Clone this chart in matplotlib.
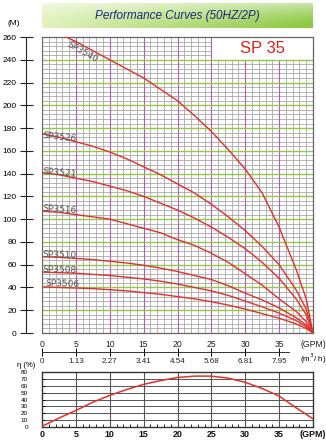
import numpy as np
import matplotlib
matplotlib.use("Agg")
import matplotlib.pyplot as plt

# ---------------- data ----------------
flow_gpm = [0, 2.5, 5, 7.5, 10, 12.5, 15, 17.5, 20, 22.5, 25, 27.5, 30, 32.5, 35, 37.5, 39, 40]

sp3540 = [268, 263, 256, 248, 240, 232, 224, 214, 204, 191, 177, 161, 144, 123, 93, 56, 30, 0]
sp3526 = [175, 172, 168, 164, 159, 153, 146, 139, 131, 123, 113, 102, 90, 76, 60, 38, 21, 0]
sp3521 = [141, 139, 136, 133, 129, 125, 120, 114, 108, 101, 93, 84, 74, 62, 48, 30, 16, 0]
sp3516 = [107, 106, 104, 102, 100, 96, 92, 88, 82, 77, 70, 62, 52, 42, 30, 19, 10, 0]
sp3510 = [67, 66.5, 65.5, 64.5, 63, 61.5, 59.5, 57, 54, 50.5, 47, 41.5, 35, 29, 22, 13.5, 7, 0]
sp3508 = [53.5, 53, 52.5, 51.5, 50.5, 49, 47.5, 45.5, 43, 40, 37, 33, 28, 23, 17.5, 11, 5.5, 0]
sp3506 = [40.5, 40, 39.5, 39, 38, 37, 35.5, 34, 32, 30, 27.5, 24.5, 21, 17, 13, 8, 4, 0]

curve_names = ["SP3540", "SP3526", "SP3521", "SP3516", "SP3510", "SP3508", "SP3506"]

eff_gpm = [0, 2.5, 5, 7.5, 10, 12.5, 15, 17.5, 20, 22.5, 25, 27.5, 30, 32.5, 35, 37.5, 40]
eff_pct = [1, 13, 24, 36, 46, 54.5, 62, 67.5, 72, 74, 74, 71, 65, 56, 45, 28, 12]

gpm_ticks = [0, 5, 10, 15, 20, 25, 30, 35, 40]
gpm_labels = ["0", "5", "10", "15", "20", "25", "30", "35", "(GPM)"]
m3h_ticks = [0, 5, 10, 15, 20, 25, 30, 35]
m3h_labels = ["0", "1.13", "2.27", "3.41", "4.54", "5.68", "6.81", "7.95"]
head_ticks = list(range(0, 261, 20))
eff_ticks = list(range(0, 81, 10))

title = "Performance Curves (50HZ/2P)"
model = "SP 35"

# ---------------- style ----------------
W, H = 326, 440
FONT = "Liberation Sans"
RED = "#e0322b"
GREY = "#a8a8a8"
MAG = "#b65cb6"
GREEN = "#92c84c"

fig = plt.figure(figsize=(W / 100, H / 100), dpi=100)
fig.patch.set_facecolor("white")
PT = 72 / 100  # points per pixel


def fr(x0, y0, x1, y1):
    return [x0 / W, 1 - y1 / H, (x1 - x0) / W, (y1 - y0) / H]


# ---- title band ----
tax = fig.add_axes(fr(42, 3, 313, 28))
t = np.linspace(0, 1, 200)[None, :, None]
v = np.linspace(0, 1, 30)[:, None, None]
left = np.array([0.88, 0.95, 0.74])
right = np.array([0.54, 0.78, 0.24])
c = left * (1 - t) + right * t
c = c + (1 - c) * 0.55 * (1 - v) ** 1.5
tax.imshow(c, aspect="auto", extent=[0, 1, 0, 1])
tax.set_axis_off()
tax.text(0.5, 0.5, title, ha="center", va="center", fontsize=8.5,
         style="italic", color="#1d2a7e", family=FONT)

# ---- main head chart ----
ax = fig.add_axes(fr(42, 37, 313, 333))
ax.set_xlim(0, 40)
ax.set_ylim(0, 260)

for gx in range(1, 40):
    if gx % 5 == 0:
        continue
    ymax = 240 if gx > 25 else 260
    ax.vlines(gx, 0, ymax, color=GREY, lw=0.6, zorder=1)
for gy in range(4, 260, 4):
    if gy % 20 == 0:
        continue
    xmax = 25 if gy > 240 else 40
    ax.hlines(gy, 0, xmax, color=GREY, lw=0.6, zorder=1)
for gx in range(5, 40, 5):
    ymax = 240 if gx > 25 else 260
    ax.vlines(gx, 0, ymax, color=MAG, lw=0.8, zorder=2)
for gy in range(20, 260, 20):
    xmax = 25 if gy > 240 else 40
    ax.hlines(gy, 0, xmax, color=GREEN, lw=1.0, zorder=2)
ax.vlines(0, 0, 260, color="#666666", lw=0.9, zorder=3)

ax.text(32.5, 250, model, ha="center", va="center", fontsize=12,
        color="#e3201c", family=FONT, zorder=5)

curves = [sp3540, sp3526, sp3521, sp3516, sp3510, sp3508, sp3506]
for yv in curves:
    ax.plot(flow_gpm, yv, color=RED, lw=1.0, zorder=4, clip_on=True,
            solid_capstyle="round")

label_pos = [(3.6, 252.5, -29), (0.1, 171.5, -6), (0.1, 140.0, -5),
             (0.1, 107.0, -4), (0.1, 67.0, -2), (0.1, 53.5, -1.5), (0.5, 41.0, -1.5)]
for name, (lx, ly, rot) in zip(curve_names, label_pos):
    ax.text(lx, ly, name, ha="left", va="baseline", rotation=rot,
            rotation_mode="anchor", fontsize=6.5, color="#555555", zorder=6)

for side in ["top", "right", "bottom"]:
    ax.spines[side].set_color("#666666")
    ax.spines[side].set_linewidth(0.9)
ax.spines["left"].set_position(("outward", 16 * PT))
ax.spines["left"].set_color("#222222")
ax.spines["left"].set_linewidth(0.8)
ax.set_yticks(head_ticks)
ax.set_yticklabels([str(v_) for v_ in head_ticks], fontsize=6, family=FONT)
ax.tick_params(axis="y", direction="inout", length=13 * PT, width=0.8,
               color="#222222", pad=2)
ax.set_xticks(gpm_ticks)
ax.set_xticklabels(gpm_labels, fontsize=6.2, family=FONT, color="#222222")
ax.tick_params(axis="x", length=0, pad=5)
ax.text(-0.105, 1.045, "(M)", transform=ax.transAxes, fontsize=6,
        family=FONT, ha="center", va="center")

# ---- m3/h axis ----
max_ = fig.add_axes(fr(42, 352, 313, 352.01))
max_.set_xlim(0, 40)
max_.set_facecolor("none")
for side in ["top", "right", "left"]:
    max_.spines[side].set_visible(False)
max_.spines["bottom"].set_bounds(0, 36.5)
max_.spines["bottom"].set_linewidth(0.7)
max_.spines["bottom"].set_color("#333333")
max_.set_yticks([])
max_.set_xticks(m3h_ticks)
max_.set_xticklabels(m3h_labels, fontsize=5.8, family=FONT, color="#222222")
max_.tick_params(axis="x", direction="inout", length=6, width=0.7, pad=1)
max_.text(40, -8, "(m$^3$/ h)", transform=max_.get_xaxis_transform(),
          fontsize=5.8, family=FONT, ha="center", va="top")

# ---- efficiency chart ----
ex = fig.add_axes(fr(42, 372, 313, 427))
ex.set_xlim(0, 40)
ex.set_ylim(0, 80)
for gy in range(10, 80, 10):
    ex.axhline(gy, color="#555555", lw=0.7, zorder=1)
for gx in range(5, 40, 5):
    ex.axvline(gx, color="#555555", lw=0.8, zorder=1)
ex.plot(eff_gpm, eff_pct, color=RED, lw=1.1, zorder=3)
for s in ex.spines.values():
    s.set_color("#333333")
    s.set_linewidth(1.0)
ex.set_yticks(eff_ticks)
ex.set_yticklabels([str(v_) for v_ in eff_ticks], fontsize=4.6, family=FONT)
ex.tick_params(axis="y", direction="in", length=2, width=0.6, pad=10)
ex.set_xticks(gpm_ticks)
ex.set_xticklabels(gpm_labels, fontsize=6.4, family=FONT, color="#111111",
                   fontweight="bold")
ex.set_xticks(range(0, 41), minor=True)
ex.tick_params(axis="x", which="major", length=0, pad=2)
ex.tick_params(axis="x", which="minor", direction="in", length=2.5, width=0.6)
ex.text(-0.058, 1.12, "η (%)", transform=ex.transAxes, fontsize=5.5,
        family=[FONT, "DejaVu Sans"], ha="center", va="center")

fig.savefig("out.png", dpi=100, facecolor="white")
